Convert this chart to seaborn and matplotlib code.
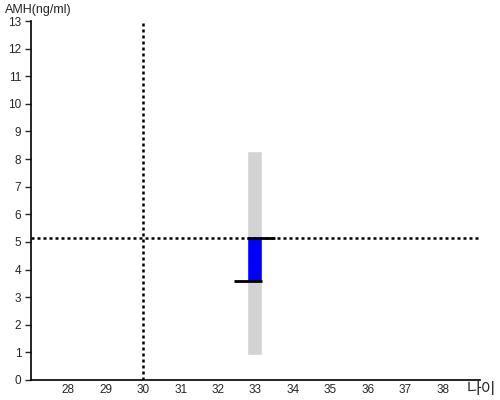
import matplotlib
matplotlib.use("Agg")
import matplotlib.pyplot as plt
import seaborn as sns

# data
ref_age = 30
ref_amh = 5.15
ages = [32.97]
range_low = [0.9]
range_high = [8.3]
amh_low = [3.59]
amh_high = [5.15]
x_ticks = [28, 29, 30, 31, 32, 33, 34, 35, 36, 37, 38]
y_ticks = list(range(0, 14))

sns.set_style("white")
plt.rcParams['font.family'] = ['Liberation Sans', 'Noto Sans CJK KR', 'DejaVu Sans']
plt.rcParams['font.size'] = 8.5

fig = plt.figure(figsize=(5, 4), dpi=100)
ax = fig.add_axes([0.062, 0.05, 0.898, 0.8975])

bar_w = 0.42
# normal range (gray)
ax.bar(ages, [h - l for h, l in zip(range_high, range_low)], bottom=range_low,
       width=bar_w, color='#d3d3d3', zorder=1)
# measured range (blue)
ax.bar(ages, [h - l for h, l in zip(amh_high, amh_low)], bottom=amh_low,
       width=bar_w, color='#0000ff', zorder=2)

# reference crosshair
ax.axvline(ref_age, color='black', linestyle=(0, (1.2, 1.2)), linewidth=1.8, zorder=3)
ax.axhline(ref_amh, color='black', linestyle=(0, (1.2, 1.2)), linewidth=1.8, zorder=3)

# black markers at top / bottom of blue bar
for a, hi, lo in zip(ages, amh_high, amh_low):
    ax.hlines(hi, a - bar_w / 2, a + 0.56, color='black', linewidth=2, zorder=4)
    ax.hlines(lo, a - 0.54, a + bar_w / 2, color='black', linewidth=2, zorder=4)

ax.set_xlim(27, 39)
ax.set_ylim(0, 13)
ax.set_xticks(x_ticks)
ax.set_yticks(y_ticks)
ax.tick_params(axis='x', length=0, pad=3)
ax.tick_params(axis='y', length=4, width=1, left=True, pad=3)
sns.despine(ax=ax, top=True, right=True)
for s in ['left', 'bottom']:
    ax.spines[s].set_color('black')
    ax.spines[s].set_linewidth(1.2)

fig.text(0.01, 0.975, 'AMH(ng/ml)', fontsize=9, ha='left', va='center')
fig.text(0.992, 0.005, '나이', family=['Noto Sans CJK KR', 'DejaVu Sans'],
         fontsize=11.5, ha='right', va='bottom')

fig.savefig('out.png', dpi=100)
